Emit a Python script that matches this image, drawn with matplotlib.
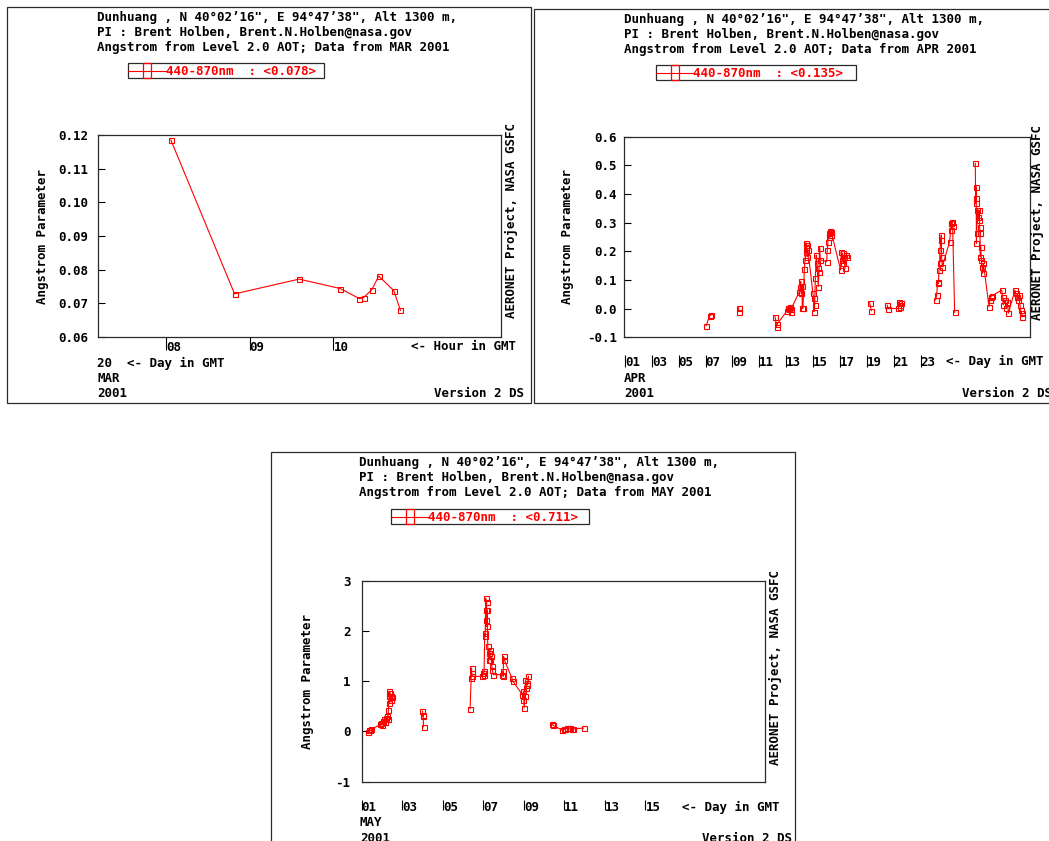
import matplotlib
matplotlib.use("Agg")
import matplotlib.pyplot as plt
from matplotlib.patches import Rectangle
from matplotlib.lines import Line2D
import numpy as np

plt.rcParams['font.family'] = 'DejaVu Sans Mono'
plt.rcParams['font.weight'] = 'bold'
plt.rcParams['font.size'] = 9
plt.rcParams['xtick.alignment'] = 'left'

W, H = 1049, 841
RED = '#ff0000'
EDGE = '#2a2a2a'

# ---- data: Dunhuang Angstrom parameter 440-870nm, Level 2.0, 2001 ----
# March: all on day 20, x in hour GMT
mar_hour = [8.06, 8.82, 9.59, 10.08, 10.31, 10.36, 10.46, 10.54, 10.72, 10.80]
mar_val = [0.1185, 0.0728, 0.0772, 0.0744, 0.0714, 0.0717, 0.0741, 0.0781, 0.0738, 0.0679]

# April: x in day of month (fractional)
apr_day = [7.05, 7.30, 7.38,
           9.46, 9.47,
           12.17, 12.29, 12.34,
           13.08, 13.16, 13.23, 13.28, 13.33, 13.38,
           13.98, 14.03, 14.08, 14.13, 14.18, 14.20, 14.25, 14.35, 14.40, 14.45,
           14.47, 14.50, 14.52, 14.57, 14.62,
           14.99, 15.04, 15.07, 15.12, 15.17, 15.24, 15.29, 15.34, 15.39, 15.44,
           15.49, 15.54,
           16.01, 16.06, 16.11, 16.16, 16.21, 16.26, 16.31, 16.36,
           17.05, 17.10, 17.15, 17.20, 17.25, 17.30, 17.38, 17.45, 17.53,
           19.21, 19.34,
           20.53, 20.55,
           21.35, 21.40, 21.45, 21.50, 21.55,
           24.13, 24.20, 24.28, 24.33, 24.38, 24.42, 24.45, 24.50, 24.55, 24.57,
           24.62,
           25.17, 25.24, 25.29, 25.34, 25.39, 25.54,
           27.08, 27.10, 27.13, 27.15, 27.16, 27.18, 27.23, 27.28, 27.33, 27.35,
           27.40, 27.43, 27.45, 27.48, 27.53, 27.58, 27.63, 27.68,
           28.10, 28.15, 28.22, 28.30,
           29.04, 29.11, 29.16, 29.28, 29.38, 29.46, 29.54,
           30.03, 30.08, 30.16, 30.26, 30.33, 30.40, 30.45, 30.53, 30.58]
apr_val = [-0.059, -0.024, -0.023,
           0.003, -0.010,
           -0.028, -0.063, -0.053,
           -0.007, 0.003, -0.002, 0.007, -0.010, 0.000,
           0.059, 0.077, 0.095, 0.053, 0.079, 0.001, 0.001, 0.137, 0.170, 0.216,
           0.230, 0.199, 0.222, 0.181, 0.205,
           0.053, 0.036, -0.010, 0.013, 0.106, 0.187, 0.158, 0.141, 0.077, 0.129,
           0.213, 0.170,
           0.164, 0.205, 0.234, 0.251, 0.263, 0.272, 0.257, 0.267,
           0.135, 0.199, 0.170, 0.193, 0.158, 0.181, 0.141, 0.187, 0.179,
           0.021, -0.007,
           0.012, 0.000,
           0.001, 0.024, 0.013, 0.007, 0.019,
           0.030, 0.048, 0.094, 0.088, 0.135, 0.158, 0.205, 0.240, 0.257, 0.181,
           0.147,
           0.234, 0.274, 0.298, 0.304, 0.288, -0.013,
           0.507, 0.368, 0.426, 0.385, 0.228, 0.263, 0.344, 0.321, 0.309, 0.344,
           0.286, 0.263, 0.181, 0.216, 0.170, 0.147, 0.123, 0.158,
           0.007, 0.030, 0.042, 0.044,
           0.065, 0.042, 0.013, 0.030, 0.001, 0.024, -0.016,
           0.065, 0.053, 0.042, 0.030, 0.048, 0.013, -0.005, -0.016, -0.028]

# May: x in day of month (fractional)
may_day = [1.33, 1.38, 1.43, 1.48,
           1.91, 1.95, 2.00, 2.05, 2.10, 2.15, 2.20, 2.25, 2.28, 2.32, 2.33, 2.35,
           2.37, 2.40, 2.43, 2.46, 2.50,
           4.00, 4.01, 4.03, 4.05,
           6.35, 6.40, 6.42, 6.43, 6.45,
           6.93, 6.98, 7.01, 7.04, 7.07, 7.09, 7.11, 7.12, 7.14, 7.16, 7.17, 7.19,
           7.22, 7.26, 7.29, 7.32, 7.35, 7.39, 7.42, 7.45, 7.49,
           7.91, 7.95, 7.98, 8.00, 8.03, 8.41, 8.46,
           8.93, 8.96, 8.98, 9.02, 9.05, 9.08, 9.12, 9.15, 9.18, 9.23,
           10.40, 10.45, 10.89, 10.96, 11.04, 11.12, 11.21, 11.29, 11.37, 11.45,
           11.95]
may_val = [-0.007, 0.026, 0.020, 0.040,
           0.139, 0.172, 0.126, 0.205, 0.238, 0.185, 0.271, 0.304, 0.238, 0.436,
           0.568, 0.701, 0.800, 0.767, 0.634, 0.701, 0.687,
           0.403, 0.304, 0.337, 0.093,
           0.456, 1.064, 1.262, 1.163, 1.097,
           1.097, 1.163, 1.130, 1.196, 1.956, 1.890, 2.221, 2.650, 2.419, 2.584,
           2.089, 2.419, 1.692, 1.428, 1.560, 1.626, 1.428, 1.494, 1.295, 1.229,
           1.130,
           1.130, 1.196, 1.097, 1.494, 1.428, 1.064, 0.998,
           0.734, 0.634, 0.800, 0.469, 0.701, 1.031, 0.866, 0.965, 0.932, 1.097,
           0.152, 0.119, 0.026, 0.053, 0.040, 0.066, 0.073, 0.059, 0.046, 0.053,
           0.066]

mar_yticks = [0.06, 0.07, 0.08, 0.09, 0.10, 0.11, 0.12]
apr_yticks = [-0.1, 0.0, 0.1, 0.2, 0.3, 0.4, 0.5, 0.6]
may_yticks = [-1, 0, 1, 2, 3]
mar_xticks, mar_xlabels = [8, 9, 10], ['08', '09', '10']
apr_xticks = [1, 3, 5, 7, 9, 11, 13, 15, 17, 19, 21, 23]
apr_xlabels = ['01', '03', '05', '07', '09', '11', '13', '15', '17', '19', '21', '23']
may_xticks = [1, 3, 5, 7, 9, 11, 13, 15]
may_xlabels = ['01', '03', '05', '07', '09', '11', '13', '15']

fig = plt.figure(figsize=(W / 100, H / 100), dpi=100)


def fx(x):
    return x / W


def fy(y):
    return 1 - y / H


def txt(x, y, s, **kw):
    fig.text(fx(x), fy(y), s, va='baseline', **kw)


def box(x0, y0, x1, y1, color=EDGE):
    fig.add_artist(Rectangle((fx(x0), fy(y1)), (x1 - x0) / W, (y1 - y0) / H,
                             fill=False, ec=color, lw=0.9))


def split(x, y, gap):
    x = np.asarray(x)
    y = np.asarray(y)
    cut = np.where(np.diff(x) > gap)[0] + 1
    return zip(np.split(x, cut), np.split(y, cut))


def draw_panel(rect, x, y, gap, xlim, ylim, yticks, yfmt, ypad,
               xticks, xlabels, loc, tlen, tpad):
    l, t, r, b = rect
    ax = fig.add_axes([fx(l), fy(b), (r - l) / W, (b - t) / H])
    for sx, sy in split(x, y, gap):
        ax.plot(sx, sy, color=RED, lw=0.8, marker='s', ms=3.6,
                mfc='none', mec=RED, mew=0.8)
    ax.set_xlim(*xlim)
    ax.set_ylim(*ylim)
    ax.set_xticks([])
    ax.set_yticks(yticks, [yfmt % v for v in yticks])
    ax.tick_params(axis='y', direction='in', length=5, width=0.8, pad=ypad)
    for s in ax.spines.values():
        s.set_color(EDGE)
        s.set_linewidth(0.9)
    sec = ax.secondary_xaxis(loc)
    sec.set_xticks(xticks, xlabels)
    sec.tick_params(direction='out', length=tlen, width=0.8, pad=tpad)
    for s in sec.spines.values():
        s.set_visible(False)
    return ax


def legend(x0, y0, x1, y1, mx, tx, base, label):
    box(x0, y0, x1, y1)
    ym = (y0 + y1) / 2
    fig.add_artist(Line2D([fx(x0), fx(tx)], [fy(ym), fy(ym)], color=RED, lw=0.8))
    box(mx, y0, mx + 8, y1, color=RED)
    txt(tx, base, label, color=RED)


def header(x, top, month):
    txt(x, top + 13.7, 'Dunhuang , N 40\u00b002\u201916", E 94\u00b047\u201938", Alt 1300 m,')
    txt(x, top + 29.0, 'PI : Brent Holben, Brent.N.Holben@nasa.gov')
    txt(x, top + 43.8, 'Angstrom from Level 2.0 AOT; Data from %s 2001' % month)


def side_labels(ylab_x, right_x, right_top, plot_top, plot_bottom):
    fig.text(fx(ylab_x), fy((plot_top + plot_bottom) / 2), 'Angstrom Parameter',
             rotation=90, ha='center', va='center')
    fig.text(fx(right_x), fy(right_top), 'AERONET Project, NASA GSFC',
             rotation=90, ha='center', va='top')


# ---- MAR panel ----
box(7, 7, 531, 403)
header(97, 7, 'MAR')
legend(128, 63, 324, 78, 143, 166, 75.3, '440-870nm  : <0.078>')
draw_panel((98, 135, 501, 337), mar_hour, mar_val, 10, (7.19, 12.0), (0.06, 0.12),
           mar_yticks, '%.2f', 7, mar_xticks, mar_xlabels, 0.0, 9.4, -6.5)
side_labels(43, 511, 123, 135, 337)
txt(411, 349.5, '<- Hour in GMT')
txt(97, 366.5, '20  <- Day in GMT')
txt(97, 381.5, 'MAR')
txt(97, 397.5, '2001')
txt(434, 397.5, 'Version 2 DS')

# ---- APR panel ----
box(534, 9, 1060, 403)
header(624, 9, 'APR')
legend(655.7, 65.3, 855.7, 80, 670.7, 693, 77.3, '440-870nm  : <0.135>')
draw_panel((624.3, 136.7, 1030, 337.3), apr_day, apr_val, 1.0, (0.95, 31.15), (-0.1, 0.6),
           apr_yticks, '%.1f', 5.5, apr_xticks, apr_xlabels, -0.088, 8.6, -7.9)
side_labels(568, 1037, 125, 136.7, 337.3)
txt(946, 365.5, '<- Day in GMT')
txt(624, 381.5, 'APR')
txt(624, 397.5, '2001')
txt(962, 397.5, 'Version 2 DS')

# ---- MAY panel ----
box(271, 452, 795, 880)
header(359, 452, 'MAY')
legend(390.7, 509.3, 589, 524, 406, 428, 521, '440-870nm  : <0.711>')
draw_panel((361.7, 580.7, 765, 781.7), may_day, may_val, 1.0, (1.0, 20.9), (-1, 3),
           may_yticks, '%d', 8, may_xticks, may_xlabels, -0.091, 7.2, -6.5)
side_labels(307, 775, 570, 580.7, 781.7)
txt(682, 810.5, '<- Day in GMT')
txt(360, 826.5, 'MAY')
txt(360, 842.5, '2001')
txt(702, 842.5, 'Version 2 DS')

fig.savefig('out.png', dpi=100)
